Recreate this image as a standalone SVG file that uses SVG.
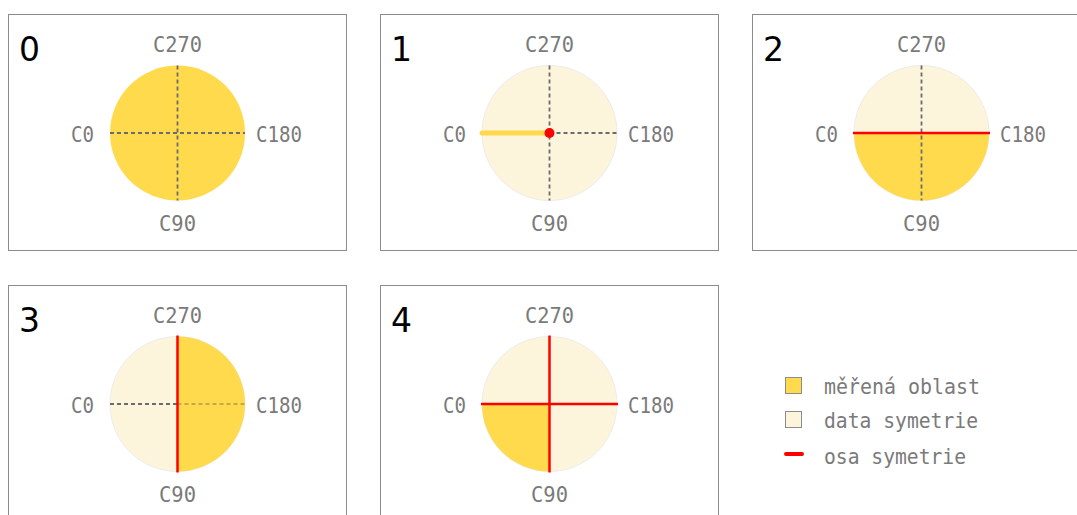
<svg xmlns="http://www.w3.org/2000/svg" width="1077" height="515" viewBox="0 0 1077 515">
<style>
.frame{fill:#fff;stroke:#8c8c8c;stroke-width:1}
.lbl{font-family:"DejaVu Sans Mono","Liberation Mono",monospace;font-size:22px;fill:#7a7a7a}
.num{font-family:"DejaVu Sans","Liberation Sans",sans-serif;font-size:33px;fill:#000}
.leg{font-family:"DejaVu Sans Mono","Liberation Mono",monospace;font-size:22px;fill:#7a7a7a}
.dash{stroke:#6a6a70;stroke-width:1.8;stroke-dasharray:4 3;fill:none}
.full{fill:#FFDA4D}
.pale{fill:#FDF5DB;stroke:#ececec;stroke-width:1}
.axis{stroke:#ff0000;stroke-width:2.5;fill:none}
</style>
<rect width="1077" height="515" fill="#fff"/>

<g id="panel0">
<rect class="frame" x="8.5" y="14.5" width="338" height="236"/>
<text class="num" x="19" y="61">0</text>
<circle class="full" cx="177.5" cy="133" r="67.5"/>
<line class="dash" x1="110" y1="133" x2="245" y2="133"/>
<line class="dash" x1="177.5" y1="65.5" x2="177.5" y2="200.5"/>
<text class="lbl" x="177.5" y="52" text-anchor="middle" textLength="49" lengthAdjust="spacingAndGlyphs">C270</text>
<text class="lbl" x="71" y="142" textLength="23" lengthAdjust="spacingAndGlyphs">C0</text>
<text class="lbl" x="256" y="142" textLength="46" lengthAdjust="spacingAndGlyphs">C180</text>
<text class="lbl" x="159" y="231" textLength="37" lengthAdjust="spacingAndGlyphs">C90</text>
</g>

<g id="panel1" transform="translate(372,0)">
<rect class="frame" x="8.5" y="14.5" width="338" height="236"/>
<text class="num" x="19" y="61">1</text>
<circle class="pale" cx="177.5" cy="133" r="67.5"/>
<line class="dash" x1="177.5" y1="133" x2="245" y2="133"/>
<line class="dash" x1="177.5" y1="65.5" x2="177.5" y2="200.5"/>
<line x1="110" y1="133" x2="177.5" y2="133" stroke="#FFD94A" stroke-width="5" stroke-linecap="round"/>
<circle cx="177.5" cy="133" r="5" fill="#ff0000"/>
<text class="lbl" x="177.5" y="52" text-anchor="middle" textLength="49" lengthAdjust="spacingAndGlyphs">C270</text>
<text class="lbl" x="71" y="142" textLength="23" lengthAdjust="spacingAndGlyphs">C0</text>
<text class="lbl" x="256" y="142" textLength="46" lengthAdjust="spacingAndGlyphs">C180</text>
<text class="lbl" x="159" y="231" textLength="37" lengthAdjust="spacingAndGlyphs">C90</text>
</g>

<g id="panel2" transform="translate(744,0)">
<rect class="frame" x="8.5" y="14.5" width="338" height="236"/>
<text class="num" x="19" y="61">2</text>
<circle class="pale" cx="177.5" cy="133" r="67.5"/>
<path class="full" d="M110 133 A67.5 67.5 0 0 0 245 133 Z"/>
<line class="dash" x1="177.5" y1="65.5" x2="177.5" y2="200.5"/>
<line class="axis" x1="109" y1="133" x2="246" y2="133"/>
<text class="lbl" x="177.5" y="52" text-anchor="middle" textLength="49" lengthAdjust="spacingAndGlyphs">C270</text>
<text class="lbl" x="71" y="142" textLength="23" lengthAdjust="spacingAndGlyphs">C0</text>
<text class="lbl" x="256" y="142" textLength="46" lengthAdjust="spacingAndGlyphs">C180</text>
<text class="lbl" x="159" y="231" textLength="37" lengthAdjust="spacingAndGlyphs">C90</text>
</g>

<g id="panel3" transform="translate(0,271)">
<rect class="frame" x="8.5" y="14.5" width="338" height="236"/>
<text class="num" x="19" y="61">3</text>
<circle class="pale" cx="177.5" cy="133" r="67.5"/>
<path class="full" d="M177.5 65.5 A67.5 67.5 0 0 1 177.5 200.5 Z"/>
<line class="dash" x1="110" y1="133" x2="177.5" y2="133"/>
<line class="dash" x1="177.5" y1="133" x2="245" y2="133" style="stroke:#c4a84a"/>
<line class="axis" x1="177.5" y1="64.5" x2="177.5" y2="201.5"/>
<text class="lbl" x="177.5" y="52" text-anchor="middle" textLength="49" lengthAdjust="spacingAndGlyphs">C270</text>
<text class="lbl" x="71" y="142" textLength="23" lengthAdjust="spacingAndGlyphs">C0</text>
<text class="lbl" x="256" y="142" textLength="46" lengthAdjust="spacingAndGlyphs">C180</text>
<text class="lbl" x="159" y="231" textLength="37" lengthAdjust="spacingAndGlyphs">C90</text>
</g>

<g id="panel4" transform="translate(372,271)">
<rect class="frame" x="8.5" y="14.5" width="338" height="236"/>
<text class="num" x="19" y="61">4</text>
<circle class="pale" cx="177.5" cy="133" r="67.5"/>
<path class="full" d="M177.5 133 L110 133 A67.5 67.5 0 0 0 177.5 200.5 Z"/>
<line class="axis" x1="109" y1="133" x2="246" y2="133"/>
<line class="axis" x1="177.5" y1="64.5" x2="177.5" y2="201.5"/>
<text class="lbl" x="177.5" y="52" text-anchor="middle" textLength="49" lengthAdjust="spacingAndGlyphs">C270</text>
<text class="lbl" x="71" y="142" textLength="23" lengthAdjust="spacingAndGlyphs">C0</text>
<text class="lbl" x="256" y="142" textLength="46" lengthAdjust="spacingAndGlyphs">C180</text>
<text class="lbl" x="159" y="231" textLength="37" lengthAdjust="spacingAndGlyphs">C90</text>
</g>

<g id="legend">
<rect x="785.5" y="377.5" width="16" height="16" fill="#FFDA4D" stroke="#8c8c8c" stroke-width="1"/>
<text class="leg" x="824" y="394" textLength="156" lengthAdjust="spacingAndGlyphs">měřená oblast</text>
<rect x="785.5" y="411.5" width="16" height="16" fill="#FDF5DB" stroke="#8c8c8c" stroke-width="1"/>
<text class="leg" x="824" y="428" textLength="154" lengthAdjust="spacingAndGlyphs">data symetrie</text>
<line x1="786" y1="454" x2="802" y2="454" stroke="#ff0000" stroke-width="4" stroke-linecap="round"/>
<text class="leg" x="824" y="464" textLength="142" lengthAdjust="spacingAndGlyphs">osa symetrie</text>
</g>
</svg>
